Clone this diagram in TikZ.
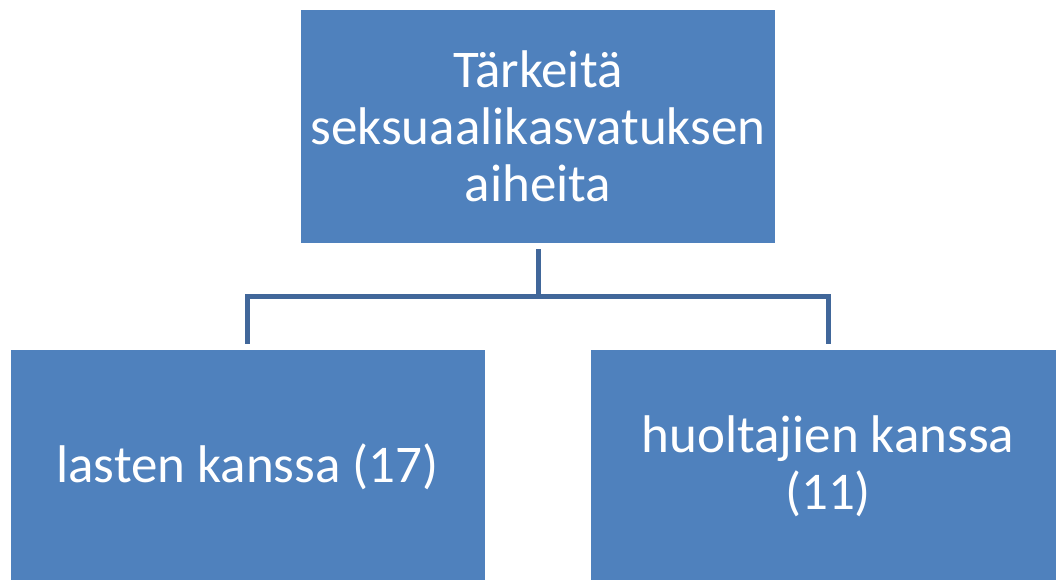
\documentclass[tikz,border=0pt]{standalone}
\usepackage{fontspec}
\setmainfont{Carlito}
\definecolor{boxblue}{HTML}{4F81BD}
\definecolor{linkblue}{HTML}{41679A}
\tikzset{
    box/.style={fill=boxblue, text=white, align=center, minimum width=474pt, minimum height=233pt, inner sep=0pt, font=\fontsize{53}{57}\selectfont},
    conn/.style={draw=linkblue, line width=5pt, line join=miter}
}
\begin{document}
\begin{tikzpicture}[x=1pt,y=1pt]
        \useasboundingbox (0,0) rectangle (1056,580);
        \clip (0,0) rectangle (1056,580);
        \node[box] (top) at (538,453.5) {Tärkeitä\\seksuaalikasvatuksen\\aiheita};
        \node[box] (lft) at (247.5,113.5) {lasten kanssa (17)};
        \node[box] (rgt) at (828,113.5) {huoltajien kanssa\\(11)};
        \coordinate (bus) at (538,283.5);
        \draw[conn] ([yshift=-6pt]top.south) -- (bus);
        \draw[conn] ([yshift=6pt]lft.north) |- (bus) -| ([yshift=6pt]rgt.north);
\end{tikzpicture}
\end{document}
